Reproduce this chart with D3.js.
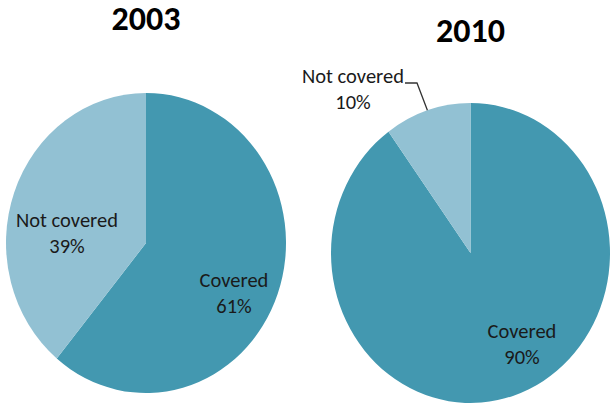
<!DOCTYPE html>
<html>
<head>
<meta charset="utf-8">
<script src="https://cdn.jsdelivr.net/npm/d3@7"></script>
<style>
  body { margin: 0; background: #fff; }
  text { font-family: Carlito, "Noto Sans", sans-serif; }
</style>
</head>
<body>
<svg id="chart" width="610" height="405"></svg>
<script>
  // data
  const years = ['2003', '2010'];
  const categories = ['Covered', 'Not covered'];
  const values2003 = [61, 39];
  const values2010 = [90, 10];

  const colors = d3.scaleOrdinal()
    .domain(categories)
    .range(['#4398b0', '#92c1d3']);

  const svg = d3.select('#chart');

  // layout of each pie (ellipse: rx, ry)
  const pies = [
    { year: years[0], values: values2003, cx: 146, cy: 243, rx: 140, ry: 150, titleY: 30,
      labels: { 'Covered': [88, 44], 'Not covered': [-79, -16] } },
    { year: years[1], values: values2010, cx: 470.5, cy: 253, rx: 139.5, ry: 150, titleY: 42,
      labels: { 'Covered': [51.5, 85], 'Not covered': [-117.5, -170] }, leader: 'Not covered' }
  ];

  const pie = d3.pie().sort(null).value(d => d.value);

  pies.forEach(p => {
    const data = categories.map((c, i) => ({ category: c, value: p.values[i] }));
    const arcs = pie(data);
    const arc = d3.arc().innerRadius(0).outerRadius(p.rx);

    const g = svg.append('g')
      .attr('transform', `translate(${p.cx},${p.cy})`);

    g.append('g')
      .attr('transform', `scale(1,${p.ry / p.rx})`)
      .selectAll('path')
      .data(arcs)
      .enter().append('path')
      .attr('d', arc)
      .attr('fill', d => colors(d.data.category));

    // title
    svg.append('text')
      .attr('x', p.cx)
      .attr('y', p.titleY)
      .attr('text-anchor', 'middle')
      .style('font-weight', 'bold')
      .style('font-size', '34px')
      .attr('fill', '#000')
      .text(p.year);

    // labels
    arcs.forEach(a => {
      const [dx, dy] = p.labels[a.data.category];
      const t = g.append('text')
        .attr('text-anchor', 'middle')
        .style('font-size', '20.5px')
        .attr('fill', '#1a1a1a');
      t.append('tspan').attr('x', dx).attr('y', dy).text(a.data.category);
      t.append('tspan').attr('x', dx).attr('y', dy + 26).text(a.data.value + '%');

      if (p.leader === a.data.category) {
        const mid = (a.startAngle + a.endAngle) / 2;
        const ex = Math.sin(mid) * p.rx;
        const ey = -Math.cos(mid) * p.ry;
        const sx = dx + 52;
        const sy = dy;
        g.append('path')
          .attr('d', d3.line()([[sx, sy], [sx + 12, sy], [ex, ey]]))
          .attr('fill', 'none')
          .attr('stroke', '#333')
          .attr('stroke-width', 1.3);
      }
    });
  });
</script>
</body>
</html>
